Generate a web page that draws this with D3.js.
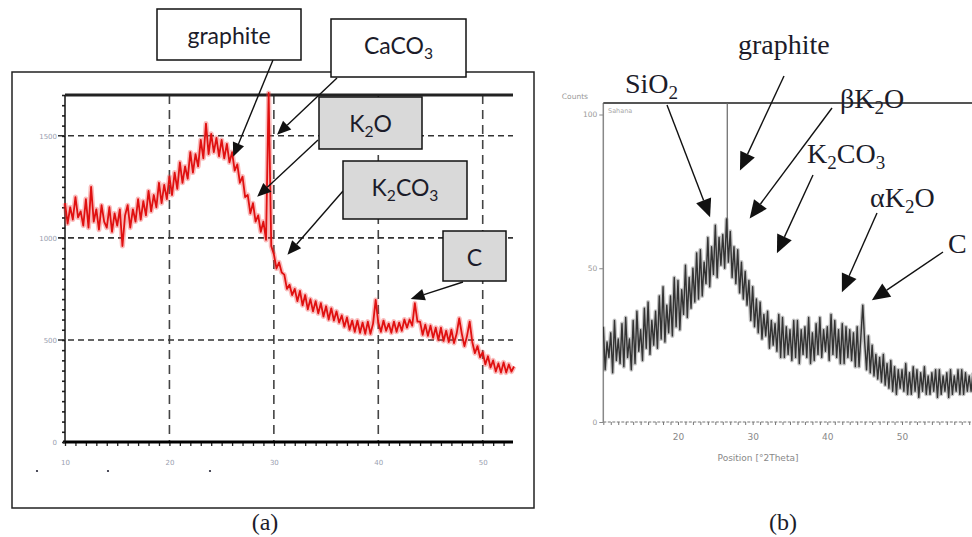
<!DOCTYPE html>
<html><head><meta charset="utf-8">
<script src="https://cdn.jsdelivr.net/npm/d3@7"></script>
<style>body{margin:0;background:#fff}svg{display:block}</style>
</head><body>
<svg id="c" width="972" height="537"></svg>
<script>
// ---------------- DATA ----------------
// Panel (a): XRD intensity, 2theta from 10 in 0.25 deg steps
const aStart = 10, aStep = 0.25;
const intensityA = [
 1170,1070,1150,1090, 1200,1100,1130,1060, 1190,1050,1250,1080, 1140,1040,1160,1080,
 1050,1150,1030,1120, 1060,1140,960,1110, 1160,1050,1140,1080, 1190,1090,1180,1110,
 1230,1130,1210,1150, 1270,1170,1260,1190, 1300,1210,1320,1240, 1370,1270,1350,1290,
 1420,1320,1410,1350, 1480,1390,1560,1410, 1510,1420,1490,1400, 1480,1390,1460,1370,
 1420,1330,1360,1270, 1300,1200,1210,1120, 1170,1080,1110,1030, 1080,990,1710,960,
 920,850,880,830, 820,750,770,720, 750,690,740,670, 720,650,700,640,
 690,630,680,615, 665,600,655,595, 640,585,620,565, 610,550,595,540,
 595,535,585,530, 590,530,580,696, 585,540,595,545, 580,535,590,540,
 585,545,600,560, 600,570,680,590, 590,525,575,520, 570,510,560,500,
 560,495,545,490, 550,485,530,605, 530,470,520,590, 490,435,470,415,
 440,380,420,365, 400,345,385,340, 390,340,380,345, 370
];
const aXTicks = [10,20,30,40,50];
const aYTicks = [0,500,1000,1500];
const aGridX = [20,30,40,50];
const aGridY = [500,1000,1500];

// Panel (b): counts, 2theta from 10 in 0.25 deg steps
const bStart = 10, bStep = 0.25;
const countsB = [
 31,17,26,21, 29,16,33,20, 27,19,32,18, 34,21,27,17, 33,19,36,23,
 30,20,37,24, 39,22,33,25, 36,24,41,27, 44,26,38,29, 41,28,47,31,
 46,30,43,35, 51,34,47,37, 50,39,55,40, 56,41,52,45, 60,44,57,48,
 64,47,60,51, 61,50,66,52, 62,47,57,45, 56,42,52,40, 49,38,46,33,
 44,31,40,29, 39,27,35,28, 36,24,33,25, 32,23,35,21, 34,21,31,22,
 30,20,33,21, 33,19,30,22, 31,21,34,19, 29,20,32,22, 34,21,30,23,
 31,20,35,22, 33,21,30,19, 32,19,31,21, 30,20,29,18, 31,18,28,38,
 26,17,28,16, 25,15,22,14, 21,13,22,12, 19,11,20,10, 18,9,17,11,
 17,10,19,9, 16,9,18,10, 17,8,16,10, 18,9,15,9, 16,10,17,8,
 17,9,15,10, 16,8,17,9, 15,10,17,9, 17,9,16,10, 15,10,16
];
const bXTicks = [20,30,40,50];
const bYTicks = [0,50,100];
const bRefLines = [26.6];

// annotations
const annA = [
 {text:"graphite", box:[157,9,144,51], tail:[273,60], head:[26.1,1397], fill:"#fff"},
 {text:"CaCO_3",  box:[331,19,135,58], tail:[337,78], head:[30.3,1505], fill:"#fff"},
 {text:"K_2O",    box:[319,97,103,52], tail:[318,140], head:[28.4,1201], fill:"#d9d9d9"},
 {text:"K_2CO_3", box:[343,161,124,58], tail:[343,191], head:[31.3,917], fill:"#d9d9d9"},
 {text:"C",       box:[443,231,63,50], tail:[463,282], head:[43.1,701], fill:"#d9d9d9"}
];
const annB = [
 {text:"SiO_2",    pos:[625,93],  tail:[667,105], head:[24.3,66.6]},
 {text:"graphite", pos:[738,54],  tail:[784,76],  head:[28.3,81.8]},
 {text:"βK_2O",    pos:[840,108], tail:[832,108], head:[29.6,66.2]},
 {text:"K_2CO_3",  pos:[807,163], tail:[813,175], head:[33.25,54.9]},
 {text:"αK_2O",    pos:[870,207], tail:[877,213], head:[41.95,42.2]},
 {text:"C",        pos:[948,253], tail:[943,252], head:[45.96,39.6]}
];

// ---------------- DRAW ----------------
const svg = d3.select("#c");

function rich(sel, str, fs){
  const parts = str.split(/(_\d)/).filter(p=>p.length);
  let sub=false;
  parts.forEach(p=>{
    if(p[0]==="_"){
      sel.append("tspan").attr("font-size",fs*0.68).attr("dy",fs*0.22).text(p.slice(1));
      sub=true;
    } else {
      const t=sel.append("tspan").text(p);
      if(sub){t.attr("dy",-fs*0.22); sub=false;}
    }
  });
}
function arrow(g, x1,y1,x2,y2, len, hw){
  const a=Math.atan2(y2-y1,x2-x1);
  const bx=x2-len*Math.cos(a), by=y2-len*Math.sin(a);
  g.append("line").attr("x1",x1).attr("y1",y1).attr("x2",bx).attr("y2",by)
    .attr("stroke","#111").attr("stroke-width",1.4);
  const px=-Math.sin(a)*hw, py=Math.cos(a)*hw;
  g.append("path").attr("d",`M${x2},${y2}L${bx+px},${by+py}L${bx-px},${by-py}Z`).attr("fill","#111");
}

// ===== Panel (a) =====
const ga = svg.append("g");
ga.append("rect").attr("x",12).attr("y",72).attr("width",522).attr("height",436)
  .attr("fill","none").attr("stroke","#222").attr("stroke-width",1.5);

const xA = d3.scaleLinear().domain([10,52.9]).range([65,513]);
const yA = d3.scaleLinear().domain([0,1700]).range([442,95]);

// grid
ga.selectAll(".gx").data(aGridX).enter().append("line")
  .attr("x1",d=>xA(d)).attr("x2",d=>xA(d)).attr("y1",yA(1700)).attr("y2",yA(0))
  .attr("stroke","#444").attr("stroke-width",1.6).attr("stroke-dasharray","9,6");
ga.selectAll(".gy").data(aGridY).enter().append("line")
  .attr("x1",58).attr("x2",xA(52.9)).attr("y1",d=>yA(d)).attr("y2",d=>yA(d))
  .attr("stroke","#333").attr("stroke-width",1.6).attr("stroke-dasharray","6,4");

// axes
const axA = ga.append("g").attr("transform",`translate(0,${yA(0)})`)
  .call(d3.axisBottom(xA).tickValues(d3.range(10,53,1)).tickSize(4).tickPadding(14)
    .tickFormat(d=>aXTicks.includes(d)?d:""));
axA.select(".domain").remove();
axA.selectAll("line").attr("stroke","#222").attr("stroke-width",1.3);
axA.selectAll("text").attr("fill","#9aa0b0").attr("font-size",7).attr("font-family","DejaVu Sans");
ga.append("line").attr("x1",63).attr("x2",xA(52.9)).attr("y1",yA(0)).attr("y2",yA(0))
  .attr("stroke","#000").attr("stroke-width",3);

const ayA = ga.append("g").attr("transform",`translate(${xA(10)},0)`)
  .call(d3.axisLeft(yA).tickValues(d3.range(0,1701,50)).tickSize(3).tickPadding(5)
    .tickFormat(d=>aYTicks.includes(d)?d:""));
ayA.select(".domain").remove();
ayA.selectAll("line").attr("stroke","#222").attr("stroke-width",1.6);
ayA.selectAll("text").attr("fill","#9aa0b0").attr("font-size",7).attr("font-family","DejaVu Sans");
ga.append("line").attr("x1",xA(10)).attr("x2",xA(10)).attr("y1",yA(1700)).attr("y2",yA(0))
  .attr("stroke","#111").attr("stroke-width",1.5);
ga.append("line").attr("x1",xA(10)).attr("x2",xA(52.9)).attr("y1",yA(1700)).attr("y2",yA(1700))
  .attr("stroke","#222").attr("stroke-width",3);

// stray dots below axis
[[37,471],[108,471],[210,471]].forEach(p=>ga.append("circle").attr("cx",p[0]).attr("cy",p[1]).attr("r",1.1).attr("fill","#223"));

// data line (a): soft band + noisy trace
const lineA = d3.line().x((d,i)=>xA(aStart+i*aStep)).y(d=>yA(d));
ga.append("path").datum(intensityA).attr("d",lineA).attr("fill","none")
  .attr("stroke","#f04040").attr("stroke-opacity",0.35).attr("stroke-width",5).attr("stroke-linejoin","round");
ga.append("path").datum(intensityA).attr("d",lineA).attr("fill","none")
  .attr("stroke","#e01010").attr("stroke-width",1.8).attr("stroke-linejoin","round");

// annotations (a)
annA.forEach(a=>{
  arrow(ga, a.tail[0],a.tail[1], xA(a.head[0]), yA(a.head[1]), 14, 6);
});
annA.forEach(a=>{
  const [bx,by,bw,bh]=a.box;
  ga.append("rect").attr("x",bx).attr("y",by).attr("width",bw).attr("height",bh)
    .attr("fill",a.fill).attr("stroke","#111").attr("stroke-width",1.5);
  const t=ga.append("text").attr("x",bx+bw/2).attr("y",by+35).attr("text-anchor","middle")
    .attr("font-family","Lato, 'Open Sans', sans-serif").attr("font-size",23).attr("fill","#1c1c2a");
  rich(t,a.text,23);
});
svg.append("text").attr("x",265).attr("y",530).attr("text-anchor","middle")
  .attr("font-family","'Liberation Serif', serif").attr("font-size",24).attr("fill","#1c1c2a").text("(a)");

// ===== Panel (b) =====
const gb = svg.append("g");
const xB = d3.scaleLinear().domain([10,50]).range([603.3,902]);
const yB = d3.scaleLinear().domain([0,100]).range([422,114.5]);
const topB = 103;

svg.append("clipPath").attr("id","cb").append("rect")
  .attr("x",603).attr("y",topB).attr("width",372).attr("height",422-topB);

// axes
const axB = gb.append("g").attr("transform",`translate(0,${yB(0)})`)
  .call(d3.axisBottom(xB).tickValues(d3.range(10,60,1)).tickSize(3).tickPadding(9)
    .tickFormat(d=>bXTicks.includes(d)?d:""));
axB.select(".domain").remove();
axB.selectAll("line").attr("stroke","#777").attr("stroke-width",1);
axB.selectAll("text").attr("fill","#888").attr("font-size",9).attr("font-family","DejaVu Sans");
gb.append("line").attr("x1",xB(10)).attr("x2",972).attr("y1",yB(0)).attr("y2",yB(0))
  .attr("stroke","#777").attr("stroke-width",1.2).attr("stroke-dasharray","3,1.5");

const ayB = gb.append("g").attr("transform",`translate(${xB(10)},0)`)
  .call(d3.axisLeft(yB).tickValues(bYTicks).tickSize(4).tickPadding(2));
ayB.select(".domain").remove();
ayB.selectAll("line").attr("stroke","#888");
ayB.selectAll("text").attr("fill","#999").attr("font-size",7.5).attr("font-family","DejaVu Sans");
gb.append("line").attr("x1",xB(10)).attr("x2",xB(10)).attr("y1",topB).attr("y2",yB(0))
  .attr("stroke","#888").attr("stroke-width",1.5);
gb.append("line").attr("x1",xB(10)).attr("x2",972).attr("y1",topB).attr("y2",topB)
  .attr("stroke","#555").attr("stroke-width",2);
gb.append("text").attr("x",588).attr("y",99).attr("text-anchor","end").attr("font-size",7.5)
  .attr("font-family","DejaVu Sans").attr("fill","#999").text("Counts");
gb.append("text").attr("x",608).attr("y",113).attr("font-size",6.5)
  .attr("font-family","DejaVu Sans").attr("fill","#aaa").text("Sahana");
gb.append("text").attr("x",758).attr("y",461).attr("text-anchor","middle").attr("font-size",9)
  .attr("font-family","DejaVu Sans").attr("fill","#888").text("Position [°2Theta]");

// reference line
gb.selectAll(".rl").data(bRefLines).enter().append("line")
  .attr("x1",d=>xB(d)).attr("x2",d=>xB(d)).attr("y1",topB).attr("y2",yB(60))
  .attr("stroke","#666").attr("stroke-width",1.2);

// data line (b)
const lineB = d3.line().x((d,i)=>xB(bStart+i*bStep)).y(d=>yB(d));
gb.append("path").datum(countsB).attr("d",lineB).attr("clip-path","url(#cb)").attr("fill","none")
  .attr("stroke","#555").attr("stroke-opacity",0.35).attr("stroke-width",4).attr("stroke-linejoin","round");
gb.append("path").datum(countsB).attr("d",lineB).attr("clip-path","url(#cb)").attr("fill","none")
  .attr("stroke","#333").attr("stroke-width",1.4).attr("stroke-linejoin","round");

annB.forEach(a=>{
  arrow(gb, a.tail[0],a.tail[1], xB(a.head[0]), yB(a.head[1]), 18, 8);
});
annB.forEach(a=>{
  const t=gb.append("text").attr("x",a.pos[0]).attr("y",a.pos[1])
    .attr("font-family","'Liberation Serif', serif").attr("font-size",28).attr("fill","#1c1c2a");
  rich(t,a.text,28);
});
svg.append("text").attr("x",783).attr("y",530).attr("text-anchor","middle")
  .attr("font-family","'Liberation Serif', serif").attr("font-size",24).attr("fill","#1c1c2a").text("(b)");
</script>
</body></html>
